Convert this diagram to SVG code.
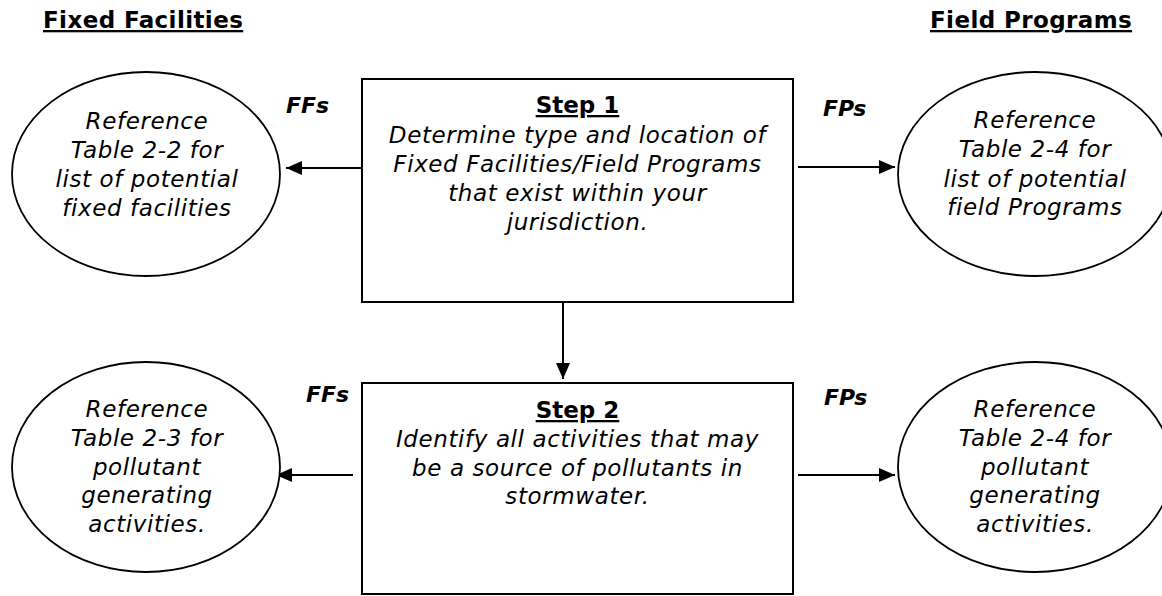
<svg xmlns="http://www.w3.org/2000/svg" width="1162" height="596" viewBox="0 0 1162 596">
<style>
text{font-family:"DejaVu Sans","Liberation Sans",sans-serif;fill:#000}
.hdr{font-size:23px;font-weight:bold;text-decoration:underline;letter-spacing:0.4px}
.step{font-size:23px;font-weight:bold;text-decoration:underline;text-anchor:middle}
.body{font-size:23px;font-style:italic;text-anchor:middle;letter-spacing:0.6px}
.lab{font-size:22px;font-weight:bold;font-style:italic}
.box{fill:#fff;stroke:#000;stroke-width:2}
.ell{fill:#fff;stroke:#000;stroke-width:1.8}
.con{stroke:#000;stroke-width:2;fill:none}
</style>
<defs>
<marker id="ah" viewBox="0 0 16 14" refX="16" refY="7" markerWidth="16" markerHeight="14" markerUnits="userSpaceOnUse" orient="auto">
<path d="M0,0 L16,7 L0,14 Z" fill="#000"/>
</marker>
</defs>
<rect width="1162" height="596" fill="#fff"/>
<text class="hdr" x="43" y="28">Fixed Facilities</text>
<text class="hdr" x="930" y="28">Field Programs</text>
<g id="connectors">
<line class="con" x1="362" y1="168" x2="286" y2="168" marker-end="url(#ah)"/>
<line class="con" x1="798" y1="167" x2="895" y2="167" marker-end="url(#ah)"/>
<line class="con" x1="563" y1="302" x2="563" y2="379" marker-end="url(#ah)"/>
<line class="con" x1="353" y1="475" x2="276" y2="475" marker-end="url(#ah)"/>
<line class="con" x1="798" y1="475" x2="895" y2="475" marker-end="url(#ah)"/>
<text class="lab" x="286" y="113">FFs</text>
<text class="lab" x="823" y="116">FPs</text>
<text class="lab" x="306" y="402">FFs</text>
<text class="lab" x="824" y="405">FPs</text>
</g>
<g id="step1">
<rect class="box" x="362" y="79" width="431" height="223"/>
<text class="step" x="577.5" y="113">Step 1</text>
<text class="body" x="577.5" y="143">Determine type and location of</text>
<text class="body" x="577.5" y="172">Fixed Facilities/Field Programs</text>
<text class="body" x="577.5" y="201">that exist within your</text>
<text class="body" x="577.5" y="230">jurisdiction.</text>
</g>
<g id="step2">
<rect class="box" x="362" y="383" width="431" height="211"/>
<text class="step" x="577.5" y="418">Step 2</text>
<text class="body" x="577.5" y="447">Identify all activities that may</text>
<text class="body" x="577.5" y="476">be a source of pollutants in</text>
<text class="body" x="577.5" y="504">stormwater.</text>
</g>
<g id="ff1">
<ellipse class="ell" cx="146" cy="174" rx="134" ry="102"/>
<text class="body" x="147" y="129">Reference</text>
<text class="body" x="147" y="158">Table 2-2 for</text>
<text class="body" x="147" y="187">list of potential</text>
<text class="body" x="147" y="216">fixed facilities</text>
</g>
<g id="fp1">
<ellipse class="ell" cx="1035" cy="174" rx="137" ry="102"/>
<text class="body" x="1035" y="128">Reference</text>
<text class="body" x="1035" y="157">Table 2-4 for</text>
<text class="body" x="1035" y="187">list of potential</text>
<text class="body" x="1035" y="215">field Programs</text>
</g>
<g id="ff2">
<ellipse class="ell" cx="146" cy="467" rx="134" ry="105"/>
<text class="body" x="147" y="417">Reference</text>
<text class="body" x="147" y="446">Table 2-3 for</text>
<text class="body" x="147" y="475">pollutant</text>
<text class="body" x="147" y="503">generating</text>
<text class="body" x="147" y="532">activities.</text>
</g>
<g id="fp2">
<ellipse class="ell" cx="1035" cy="467" rx="137" ry="105"/>
<text class="body" x="1035" y="417">Reference</text>
<text class="body" x="1035" y="446">Table 2-4 for</text>
<text class="body" x="1035" y="475">pollutant</text>
<text class="body" x="1035" y="503">generating</text>
<text class="body" x="1035" y="532">activities.</text>
</g>
</svg>
